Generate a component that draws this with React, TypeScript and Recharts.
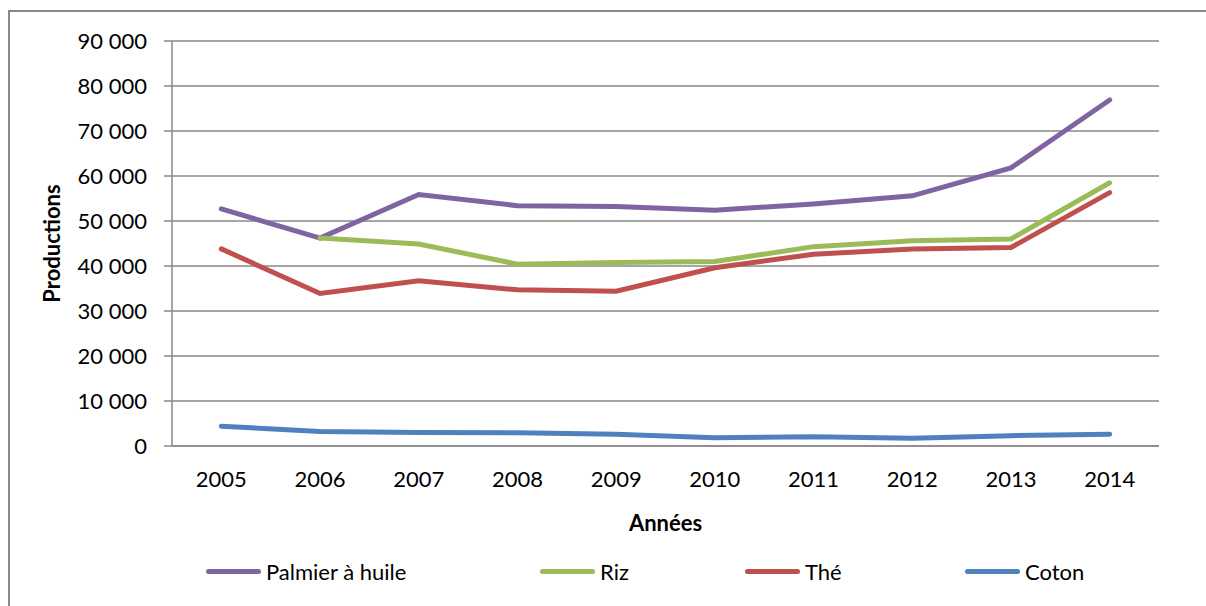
import { LineChart, Line, XAxis, YAxis, CartesianGrid, Legend } from 'recharts';

// Productions annuelles 2005-2014
const years = ['2005', '2006', '2007', '2008', '2009', '2010', '2011', '2012', '2013', '2014'];
const palmier = [52700, 46200, 55900, 53400, 53200, 52400, 53800, 55600, 61800, 76900];
const riz = [null, 46200, 44900, 40400, 40800, 41000, 44300, 45600, 46000, 58500];
const the = [43800, 33900, 36700, 34700, 34400, 39600, 42600, 43800, 44100, 56300];
const coton = [4400, 3200, 3000, 2950, 2600, 1850, 2050, 1700, 2300, 2600];
const yTicks = [0, 10000, 20000, 30000, 40000, 50000, 60000, 70000, 80000, 90000];
const seriesNames = ['Palmier à huile', 'Riz', 'Thé', 'Coton'];

const data = years.map((year, i) => ({
  year,
  palmier: palmier[i],
  riz: riz[i],
  the: the[i],
  coton: coton[i],
}));

const GRAY = '#898989';
const FONT = 'Lato';
const legendLeft = [206, 540, 745, 965];

const fmt = (v: number) => String(v).replace(/\B(?=(\d{3})+(?!\d))/g, ' ');

const YLabel = (props: any) => {
  const vb = props.viewBox;
  const x = vb.x + 43;
  const y = vb.y + vb.height / 2;
  return (
    <text x={x} y={y} transform={`rotate(-90 ${x} ${y})`} textAnchor="middle" dominantBaseline="central"
      fontSize={22} fontWeight="bold" fill="#000">
      Productions
    </text>
  );
};

const XLabel = (props: any) => {
  const vb = props.viewBox;
  return (
    <text x={vb.x + vb.width / 2} y={vb.y + 76} textAnchor="middle" dominantBaseline="central"
      fontSize={22} fontWeight="bold" fill="#000">
      Années
    </text>
  );
};

const LegendContent = (props: any) => {
  const payload = props.payload || [];
  // garder l'ordre des séries (Recharts trie par défaut)
  const items = seriesNames.map((n) => payload.find((p: any) => p.value === n)).filter(Boolean);
  return (
    <div style={{ position: 'relative', width: 1206, height: 60 }}>
      {items.map((item: any, i: number) => (
        <div key={item.value} style={{ position: 'absolute', left: legendLeft[i], top: 10, display: 'flex', alignItems: 'center', height: 30 }}>
          <div style={{ width: 55, height: 5, borderRadius: 3, background: item.color }} />
          <span style={{ marginLeft: 5, fontSize: 22, color: '#000', fontFamily: FONT }}>{item.value}</span>
        </div>
      ))}
    </div>
  );
};

export default function App() {
  return (
    <div style={{ position: 'fixed', left: 0, top: 0, width: 1206, height: 606, overflow: 'hidden', fontFamily: FONT, background: '#fff' }}>
      <div style={{ position: 'absolute', left: 8, top: 10, width: 1300, height: 700, borderLeft: `2px solid ${GRAY}`, borderTop: `2px solid ${GRAY}` }} />
      <LineChart width={1206} height={606} data={data} margin={{ top: 41, right: 47, left: 8, bottom: 0 }}>
        <CartesianGrid vertical={false} stroke={GRAY} strokeWidth={1.5} />
        <XAxis
          dataKey="year"
          height={100}
          padding={{ left: 49.35, right: 49.35 }}
          axisLine={{ stroke: GRAY, strokeWidth: 1.5 }}
          tickLine={false}
          tickSize={0}
          tickMargin={25}
          tick={{ fontSize: 22, fill: '#000' }}
          interval={0}
          label={<XLabel />}
        />
        <YAxis
          width={164}
          domain={[0, 90000]}
          ticks={yTicks}
          tickFormatter={fmt}
          axisLine={{ stroke: GRAY, strokeWidth: 1.5 }}
          tickLine={{ stroke: GRAY, strokeWidth: 1.5 }}
          tickSize={8}
          tickMargin={17}
          tick={{ fontSize: 22, fill: '#000' }}
          interval={0}
          label={<YLabel />}
        />
        <Legend
          verticalAlign="bottom"
          content={<LegendContent />}
          wrapperStyle={{ left: 0, top: 546, width: 1206, height: 60 }}
        />
        <Line dataKey="palmier" name="Palmier à huile" stroke="#8064A2" strokeWidth={5} dot={false} strokeLinecap="round" isAnimationActive={false} />
        <Line dataKey="riz" name="Riz" stroke="#9BBB59" strokeWidth={5} dot={false} strokeLinecap="round" isAnimationActive={false} />
        <Line dataKey="the" name="Thé" stroke="#C0504D" strokeWidth={5} dot={false} strokeLinecap="round" isAnimationActive={false} />
        <Line dataKey="coton" name="Coton" stroke="#4F81BD" strokeWidth={5} dot={false} strokeLinecap="round" isAnimationActive={false} />
      </LineChart>
    </div>
  );
}
